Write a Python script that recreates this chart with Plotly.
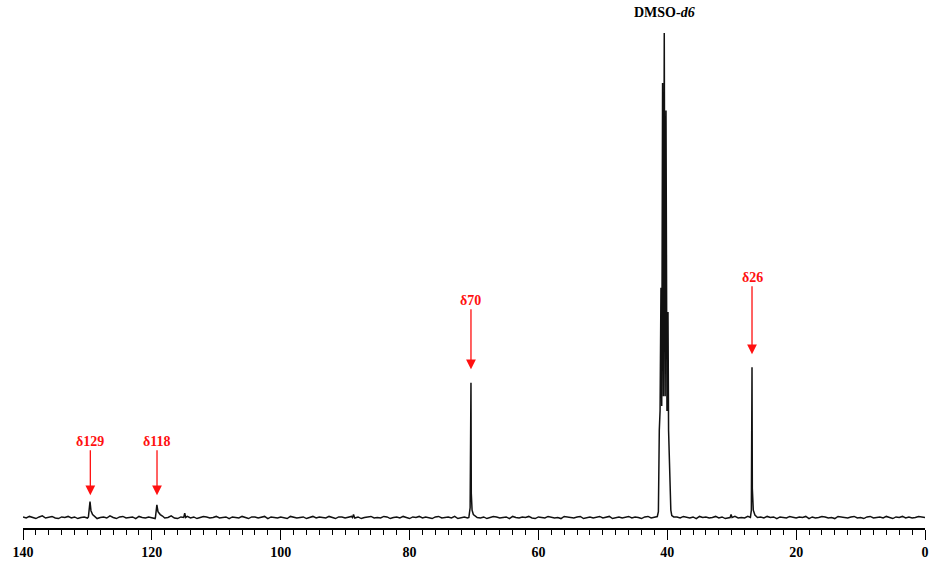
import numpy as np
import plotly.graph_objects as go

# ---- data (chemical shift in ppm, relative intensity) ----
# baseline noise, every 0.5 ppm from 140 down to 0
baseline_start, baseline_end, baseline_step = 140.0, 0.0, 0.5
noise_unit = 0.0011
noise_vals = [
    1, -1, 2, 0, -2, 1, 3, -1, 0, 2, -1, -2, 1, 0, 2, -1, 1, -2, 0, 1,
    -1, 2, 1, -2, 0, 1, -1, 3, 0, -2, 1, 2, -1, 0, 1, -2, 2, 0, -1, 1,
    0, -2, 1, 2, -1, 0, 3, -1, -2, 1, 0, 2, -1, 1, -2, 0, 2, 1, -1, 0,
    2, -1, 0, 1, -2, 1, 0, -1, 2, 0, -2, 1, 1, -1, 0, 2, -2, 1, 0, -1,
    1, 0, -2, 2, 1, -1, 0, 1, -2, 0, 2, -1, 1, 0, -1, 2, 0, -2, 1, 1,
    -1, 0, 2, -1, 1, -2, 0, 1, 2, -1, 0, -1, 2, 1, -2, 0, 1, -1, 2, 0,
    -2, 1, 0, 2, -1, 1, 0, -2, 1, 2, -1, 0, 1, -1, 2, -2, 0, 1, -1, 1,
    2, 0, -1, 1, -2, 0, 2, 1, -1, 0, 1, -2, 2, 0, -1, 1, 0, 2, -1, -2,
    1, 0, -1, 2, 1, -1, 0, -2, 2, 1, 0, -1, 1, 2, -2, 0, 1, -1, 0, 2,
    -1, 1, 2, -2, 0, 1, -1, 0, 2, -1, 1, 0, -2, 1, 2, -1, 0, 1, -1, 2,
    0, -2, 1, 1, -1, 2, 0, -1, 1, -2, 2, 0, 1, -1, 0, 2, -1, 1, -2, 0,
    1, 2, -1, 0, -1, 2, 1, -2, 0, 1, -1, 2, 0, 1, -2, 1, 0, -1, 2, 0,
    -1, 1, 0, 2, -2, 1, -1, 0, 2, 1, -1, 0, -2, 2, 1, 0, -1, 1, 2, -1,
    0, -2, 1, 2, -1, 0, 1, -1, 2, 0, -2, 1, 0, 2, -1, 1, -1, 0, 2, 1,
    0,
]

# peak profiles (ppm, intensity)
peak129_ppm = [129.85, 129.6, 129.45, 129.2, 128.9]
peak129_int = [0.001, 0.033, 0.014, 0.006, 0.002]
peak119_ppm = [119.45, 119.22, 119.05, 118.7, 118.35]
peak119_int = [0.000, 0.026, 0.012, 0.006, 0.003]
spike115_ppm = [115.05, 114.9, 114.75]
spike115_int = [0.000, 0.009, 0.000]
spike89_ppm = [88.85, 88.7, 88.55]
spike89_int = [0.000, 0.006, 0.000]
peak70_ppm = [70.8, 70.6, 70.52, 70.47, 70.42, 70.3, 70.1, 69.8]
peak70_int = [0.000, 0.020, 0.170, 0.278, 0.050, 0.015, 0.006, 0.002]
dmso_ppm = [41.55, 41.38, 41.3, 41.24, 41.12, 40.98, 40.86, 40.73, 40.6, 40.47,
            40.33, 40.2, 40.05, 39.89, 39.8, 39.74, 39.6, 39.45, 39.3]
dmso_int = [0.002, 0.012, 0.170, 0.180, 0.220, 0.474, 0.230, 0.897, 0.250, 1.000,
            0.250, 0.840, 0.220, 0.424, 0.180, 0.156, 0.060, 0.015, 0.004]
spike30_ppm = [30.25, 30.1, 29.95]
spike30_int = [0.000, 0.006, 0.000]
peak26_ppm = [27.1, 26.95, 26.9, 26.85, 26.8, 26.65, 26.4]
peak26_int = [0.000, 0.015, 0.140, 0.310, 0.060, 0.015, 0.005]

# labels: text, arrow tip ppm, arrow tip intensity, label offset px
label_text = ["δ129", "δ118", "δ70", "δ26"]
label_ppm = [129.55, 119.2, 70.47, 26.85]
label_tip = [0.046, 0.046, 0.306, 0.337]
label_dy = [-54, -54, -69, -77]
solvent_label = "<b>DMSO-<i>d6</i></b>"
solvent_ppm = 40.47

x_ticks = [140, 120, 100, 80, 60, 40, 20, 0]

# ---- build spectrum ----
base_ppm = np.round(np.arange(baseline_start, baseline_end - 1e-9, -baseline_step), 3)
base_int = np.array(noise_vals[:len(base_ppm)]) * noise_unit

peaks = [
    (peak129_ppm, peak129_int), (peak119_ppm, peak119_int),
    (spike115_ppm, spike115_int), (spike89_ppm, spike89_int),
    (peak70_ppm, peak70_int), (dmso_ppm, dmso_int),
    (spike30_ppm, spike30_int), (peak26_ppm, peak26_int),
]
keep = np.ones(len(base_ppm), dtype=bool)
for pp, _ in peaks:
    lo, hi = min(pp) - 0.01, max(pp) + 0.01
    keep &= ~((base_ppm >= lo) & (base_ppm <= hi))
xs = list(base_ppm[keep])
ys = list(base_int[keep])
for pp, ii in peaks:
    xs += list(pp)
    ys += list(ii)
order = np.argsort(-np.array(xs))
xs = np.array(xs)[order]
ys = np.array(ys)[order]

fig = go.Figure()
fig.add_trace(go.Scatter(
    x=xs, y=ys, mode="lines",
    line=dict(color="#111111", width=1.5),
    hoverinfo="skip", showlegend=False,
))

lab_font = dict(family="Liberation Serif", size=14, color="#ff1010", weight="bold")
for t, xp, yp, dy in zip(label_text, label_ppm, label_tip, label_dy):
    fig.add_annotation(
        x=xp, y=yp, xref="x", yref="y", text=t, showarrow=True,
        ax=0, ay=dy, arrowhead=2, arrowsize=1.5, arrowwidth=1.3,
        arrowcolor="#ff1010", standoff=0, font=lab_font,
    )

fig.add_annotation(
    x=solvent_ppm, y=1.0138, xref="x", yref="paper", text=solvent_label,
    showarrow=False, yanchor="middle",
    font=dict(family="Liberation Serif", size=14, color="#000000"),
)

fig.update_layout(
    width=934, height=561,
    margin=dict(l=23, r=9, t=20, b=33, autoexpand=False),
    paper_bgcolor="white", plot_bgcolor="white",
    xaxis=dict(
        range=[140.0005, -0.0005], tickvals=x_ticks, ticks="outside", ticklen=10,
        tickwidth=1.3, tickcolor="black", showline=True, linecolor="black",
        linewidth=1.5, showgrid=False, zeroline=False, automargin=False,
        tickfont=dict(family="Liberation Serif", size=14, color="black", weight="bold"),
        minor=dict(dtick=2, ticks="outside", ticklen=5, tickwidth=1.2, tickcolor="black", showgrid=False),
    ),
    yaxis=dict(
        range=[-0.0217, 1.0268], visible=False, showgrid=False, zeroline=False,
        automargin=False,
    ),
)

fig.write_html(
    "out.html",
    config={"displayModeBar": False},
    post_script="document.body.style.margin='0';document.body.style.overflow='hidden';",
)
